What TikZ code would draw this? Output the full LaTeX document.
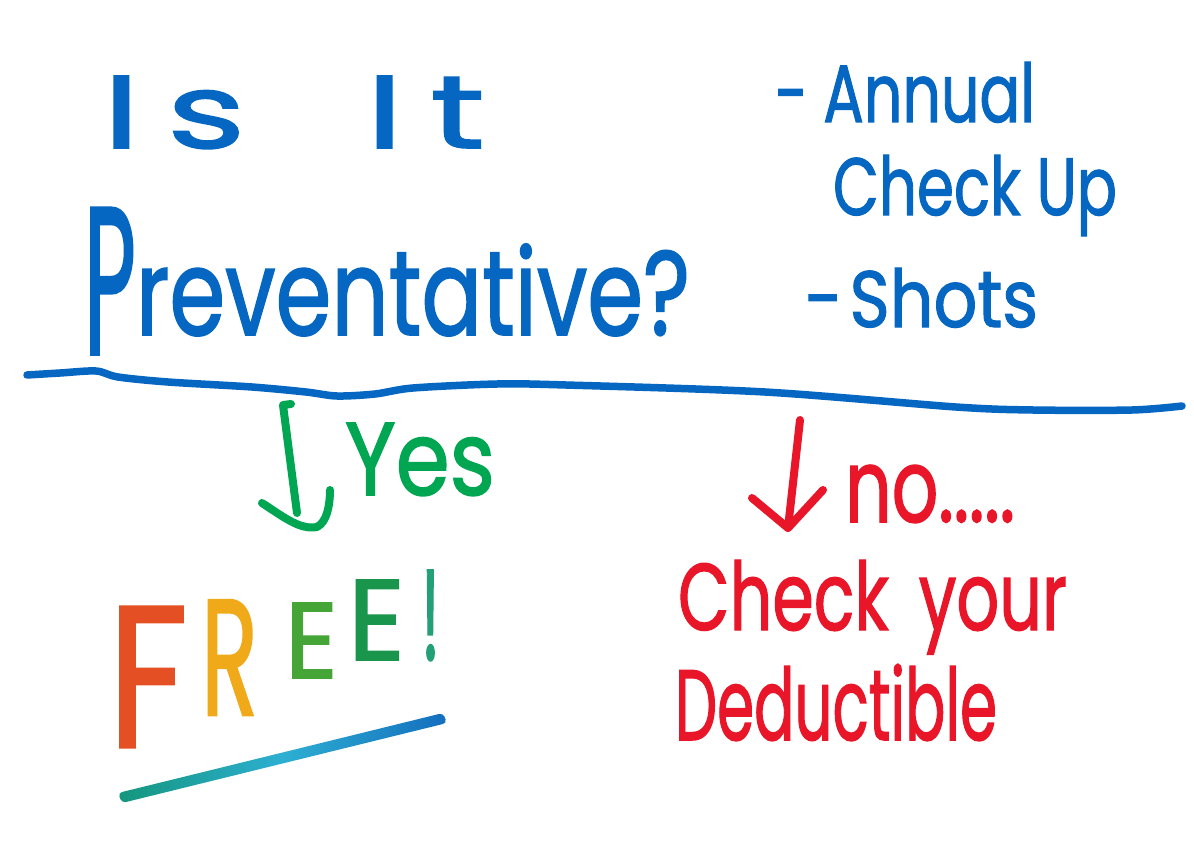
\documentclass[tikz,border=0pt]{standalone}
\usepackage{fontspec}
\usepackage{graphicx}
\newfontfamily\hand{Poppins}[FakeBold=1.5]
\definecolor{pblue}{RGB}{5,103,193}
\definecolor{pgreen}{RGB}{0,166,81}
\definecolor{pred}{RGB}{232,22,40}
\definecolor{fF}{RGB}{228,80,35}
\definecolor{fR}{RGB}{240,170,25}
\definecolor{fEa}{RGB}{70,165,55}
\definecolor{fEb}{RGB}{25,150,75}
\definecolor{fX}{RGB}{35,160,120}
\definecolor{ulA}{RGB}{20,150,125}
\definecolor{ulB}{RGB}{45,175,210}
\definecolor{ulC}{RGB}{20,110,190}
\newcommand\fitbox[3]{\resizebox{#1}{#2}{#3}}
\tikzset{
  txt/.style={inner sep=0pt, outer sep=0pt, anchor=base west, font=\hand\fontsize{40}{48}\selectfont},
  pen/.style={line width=8pt, line cap=round, line join=round},
}
\begin{document}
\begin{tikzpicture}[x=1pt,y=-1pt]
\fill[white] (0,0) rectangle (1194,848);
\useasboundingbox (0,0) rectangle (1194,848);

% top texts
\node[txt, text=pblue] (isit) at (103,148) {\fitbox{382pt}{72pt}{\addfontfeatures{LetterSpace=18}Is\hspace{0.8em}It}};
\node[txt, text=pblue] (prev) at (84,335) {\fitbox{606pt}{127pt}{\raisebox{-0.16em}{\scalebox{1}[1.75]{P}}reventative?}};
\node[txt, text=pblue] (annual) at (775,122) {\fitbox{260pt}{60pt}{-\hspace{0.25em}Annual}};
\node[txt, text=pblue] (checkup) at (833,215) {\fitbox{284pt}{60pt}{Check Up}};
\node[txt, text=pblue] (shots) at (805,327) {\fitbox{233pt}{59pt}{-\hspace{0.1em}Shots}};

% divider line
\draw[pen, pblue, line width=7.5pt] plot[smooth, tension=0.5] coordinates {
 (27,375) (60,373) (96,371) (118,377) (168,382) (252,387) (306,392) (337,396)
 (375,394) (413,388) (497,384) (566,385) (765,392) (956,407) (1033,410) (1132,410) (1182,406)};

% yes branch
\coordinate (gtop) at (283,405);
\coordinate (ghook) at (291,404);
\coordinate (gtip) at (297,513);
\coordinate (ghl) at (262,503);
\coordinate (ghb) at (317,527);
\coordinate (ghr) at (330,490);
\draw[pen, pgreen] (ghook) -- (gtop) -- (gtip);
\draw[pen, pgreen] (ghl) .. controls (285,518) and (300,530) .. (ghb) .. controls (327,522) and (330,505) .. (ghr);
\node[txt, text=pgreen] (yes) at (345,495) {\fitbox{150pt}{72pt}{Yes}};

% no branch
\coordinate (rtop) at (800,420);
\coordinate (rtip) at (788,528);
\coordinate (rhl) at (752,498);
\coordinate (rhr) at (823,490);
\draw[pen, pred] (rtop) -- (rtip);
\draw[pen, pred] (rhl) -- (rtip) -- (rhr);
\node[txt, text=pred] (no) at (845,522) {\fitbox{170pt}{57pt}{no.....}};
\node[txt, text=pred] (checkyour) at (678,630) {\fitbox{389pt}{70pt}{Check\hspace{0.45em}your}};
\node[txt, text=pred] (deduct) at (675,740) {\fitbox{322pt}{76pt}{Deductible}};

% FREE! (letters climb to the right)
\node[txt] (free) at (108,747) {%
  {\color{fF}\fitbox{80pt}{140pt}{F}}\hspace{13pt}%
  \raisebox{32pt}{\color{fR}\fitbox{57pt}{115pt}{R}}\hspace{27pt}%
  \raisebox{69pt}{\color{fEa}\fitbox{53pt}{75pt}{E}}\hspace{10pt}%
  \raisebox{87pt}{\color{fEb}\fitbox{57pt}{80pt}{E}}\hspace{16pt}%
  \raisebox{87pt}{\color{fX}\fitbox{19pt}{90pt}{!}}};
\shade[left color=ulA, right color=ulC, middle color=ulB, rounded corners=4pt]
  (118,793) -- (443,713) -- (447,723) -- (122,803) -- cycle;
\end{tikzpicture}
\end{document}
